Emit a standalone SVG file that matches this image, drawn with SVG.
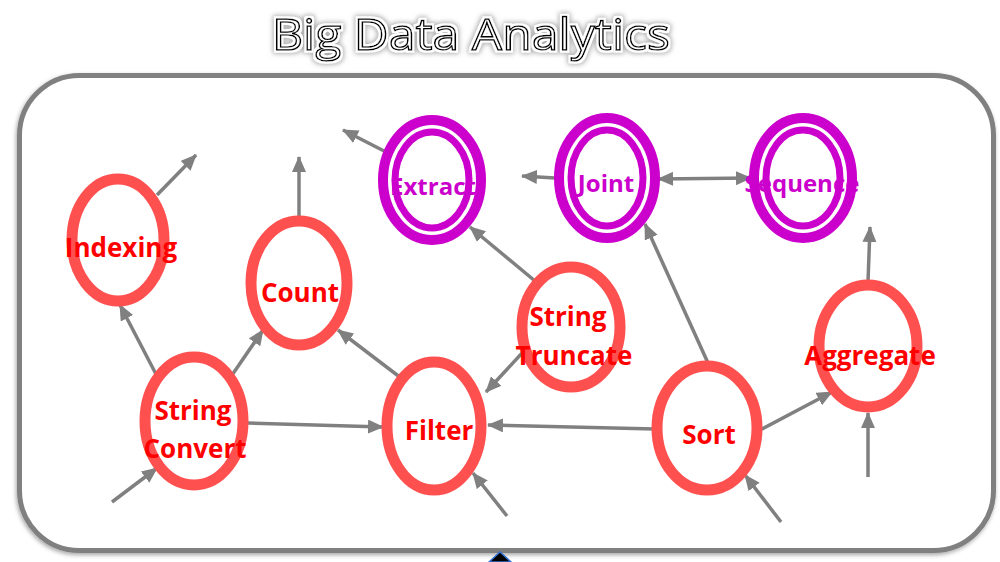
<svg xmlns="http://www.w3.org/2000/svg" width="1000" height="562" viewBox="0 0 1000 562">
<defs>
<style>
.red{fill:none;stroke:#FF5050;stroke-width:11}
.pur{fill:none;stroke:#CC00CC}
.rt{font-family:"Open Sans","Liberation Sans",sans-serif;font-weight:bold;font-size:26px;fill:#FF0000;text-anchor:middle}
.pt{font-family:"Open Sans","Liberation Sans",sans-serif;font-weight:bold;font-size:24px;fill:#CC00CC;text-anchor:middle}
.c line{stroke:#808080;stroke-width:3.5;marker-end:url(#ah)}
</style>
<marker id="ah" markerUnits="userSpaceOnUse" markerWidth="18" markerHeight="16" refX="15" refY="7" orient="auto">
<path d="M0,0 L16,7 L0,14 Z" fill="#808080"/>
</marker>
<marker id="ahs" markerUnits="userSpaceOnUse" markerWidth="18" markerHeight="16" refX="1" refY="7" orient="auto">
<path d="M16,0 L0,7 L16,14 Z" fill="#808080"/>
</marker>
<filter id="sh" x="-5%" y="-5%" width="110%" height="110%">
<feDropShadow dx="-1" dy="2" stdDeviation="2" flood-color="#000" flood-opacity="0.35"/>
</filter>
<filter id="glow" x="-5%" y="-30%" width="110%" height="160%">
<feMorphology in="SourceAlpha" operator="dilate" radius="3" result="d"/>
<feGaussianBlur in="d" stdDeviation="2.5" result="b"/>
<feFlood flood-color="#999" flood-opacity="0.8"/>
<feComposite in2="b" operator="in" result="g"/>
<feMorphology in="SourceAlpha" operator="dilate" radius="2" result="d2"/>
<feFlood flood-color="#fff"/>
<feComposite in2="d2" operator="in" result="w"/>
<feMerge><feMergeNode in="g"/><feMergeNode in="w"/><feMergeNode in="SourceGraphic"/></feMerge>
</filter>
</defs>
<rect width="1000" height="562" fill="#fff"/>
<g id="title">
<text x="471" y="50" font-family="'Open Sans','Liberation Sans',sans-serif" font-size="44" fill="#fff" stroke="#000" stroke-width="1.4" text-anchor="middle" textLength="398" lengthAdjust="spacingAndGlyphs" filter="url(#glow)">Big Data Analytics</text>
</g>
<g id="frame">
<rect x="19.5" y="75.5" width="974" height="475" rx="60" ry="60" fill="#fff" stroke="#808080" stroke-width="5" filter="url(#sh)"/>
<polygon points="489,562 500,552 511,562" fill="#000" stroke="#3070D0" stroke-width="1.5"/>
</g>
<g id="connectors" class="c">
<line x1="157" y1="195" x2="196" y2="155"/>
<line x1="299" y1="218" x2="299" y2="157"/>
<line x1="386" y1="152" x2="343" y2="130"/>
<line x1="555" y1="178" x2="522" y2="176"/>
<line x1="658" y1="179" x2="751" y2="178" marker-start="url(#ahs)"/>
<line x1="868" y1="282" x2="870" y2="227"/>
<line x1="868" y1="477" x2="868" y2="413"/>
<line x1="760" y1="430" x2="832" y2="392"/>
<line x1="708" y1="363" x2="645" y2="224"/>
<line x1="655" y1="429" x2="488" y2="425"/>
<line x1="781" y1="522" x2="745" y2="475"/>
<line x1="507" y1="516" x2="473" y2="473"/>
<line x1="523" y1="352" x2="486" y2="392"/>
<line x1="535" y1="281" x2="470" y2="227"/>
<line x1="401" y1="378" x2="338" y2="330"/>
<line x1="248" y1="423" x2="383" y2="427"/>
<line x1="230" y1="378" x2="263" y2="330"/>
<line x1="158" y1="378" x2="120" y2="305"/>
<line x1="112" y1="502" x2="157" y2="468"/>
</g>
<g id="indexing"><ellipse class="red" cx="118" cy="240" rx="46" ry="61"/><text class="rt" x="121" y="257">Indexing</text></g>
<g id="count"><ellipse class="red" cx="299" cy="283" rx="48" ry="62"/><text class="rt" x="300" y="302">Count</text></g>
<g id="string-convert"><ellipse class="red" cx="194" cy="421" rx="49" ry="64"/><text class="rt" x="193" y="420">String</text><text class="rt" x="195" y="458">Convert</text></g>
<g id="filter"><ellipse class="red" cx="434" cy="426" rx="47" ry="64"/><text class="rt" x="439" y="440">Filter</text></g>
<g id="string-truncate"><ellipse class="red" cx="571" cy="327" rx="49" ry="60"/><text class="rt" x="568" y="326">String</text><text class="rt" x="574" y="365">Truncate</text></g>
<g id="sort"><ellipse class="red" cx="707" cy="428" rx="50" ry="62"/><text class="rt" x="709" y="444">Sort</text></g>
<g id="aggregate"><ellipse class="red" cx="868" cy="346" rx="49" ry="61"/><text class="rt" x="870" y="365">Aggregate</text></g>
<g id="extract"><ellipse class="pur" stroke-width="10" cx="432" cy="180" rx="49" ry="60"/><ellipse class="pur" stroke-width="7" cx="432" cy="180" rx="37" ry="48"/><text class="pt" x="433" y="195">Extract</text></g>
<g id="joint"><ellipse class="pur" stroke-width="10" cx="607" cy="178" rx="48" ry="60"/><ellipse class="pur" stroke-width="7" cx="607" cy="178" rx="36" ry="48"/><text class="pt" x="606" y="192">Joint</text></g>
<g id="sequence"><ellipse class="pur" stroke-width="10" cx="803" cy="178" rx="49" ry="60"/><ellipse class="pur" stroke-width="7" cx="803" cy="178" rx="37" ry="48"/><text class="pt" x="802" y="192">Sequence</text></g>
</svg>
